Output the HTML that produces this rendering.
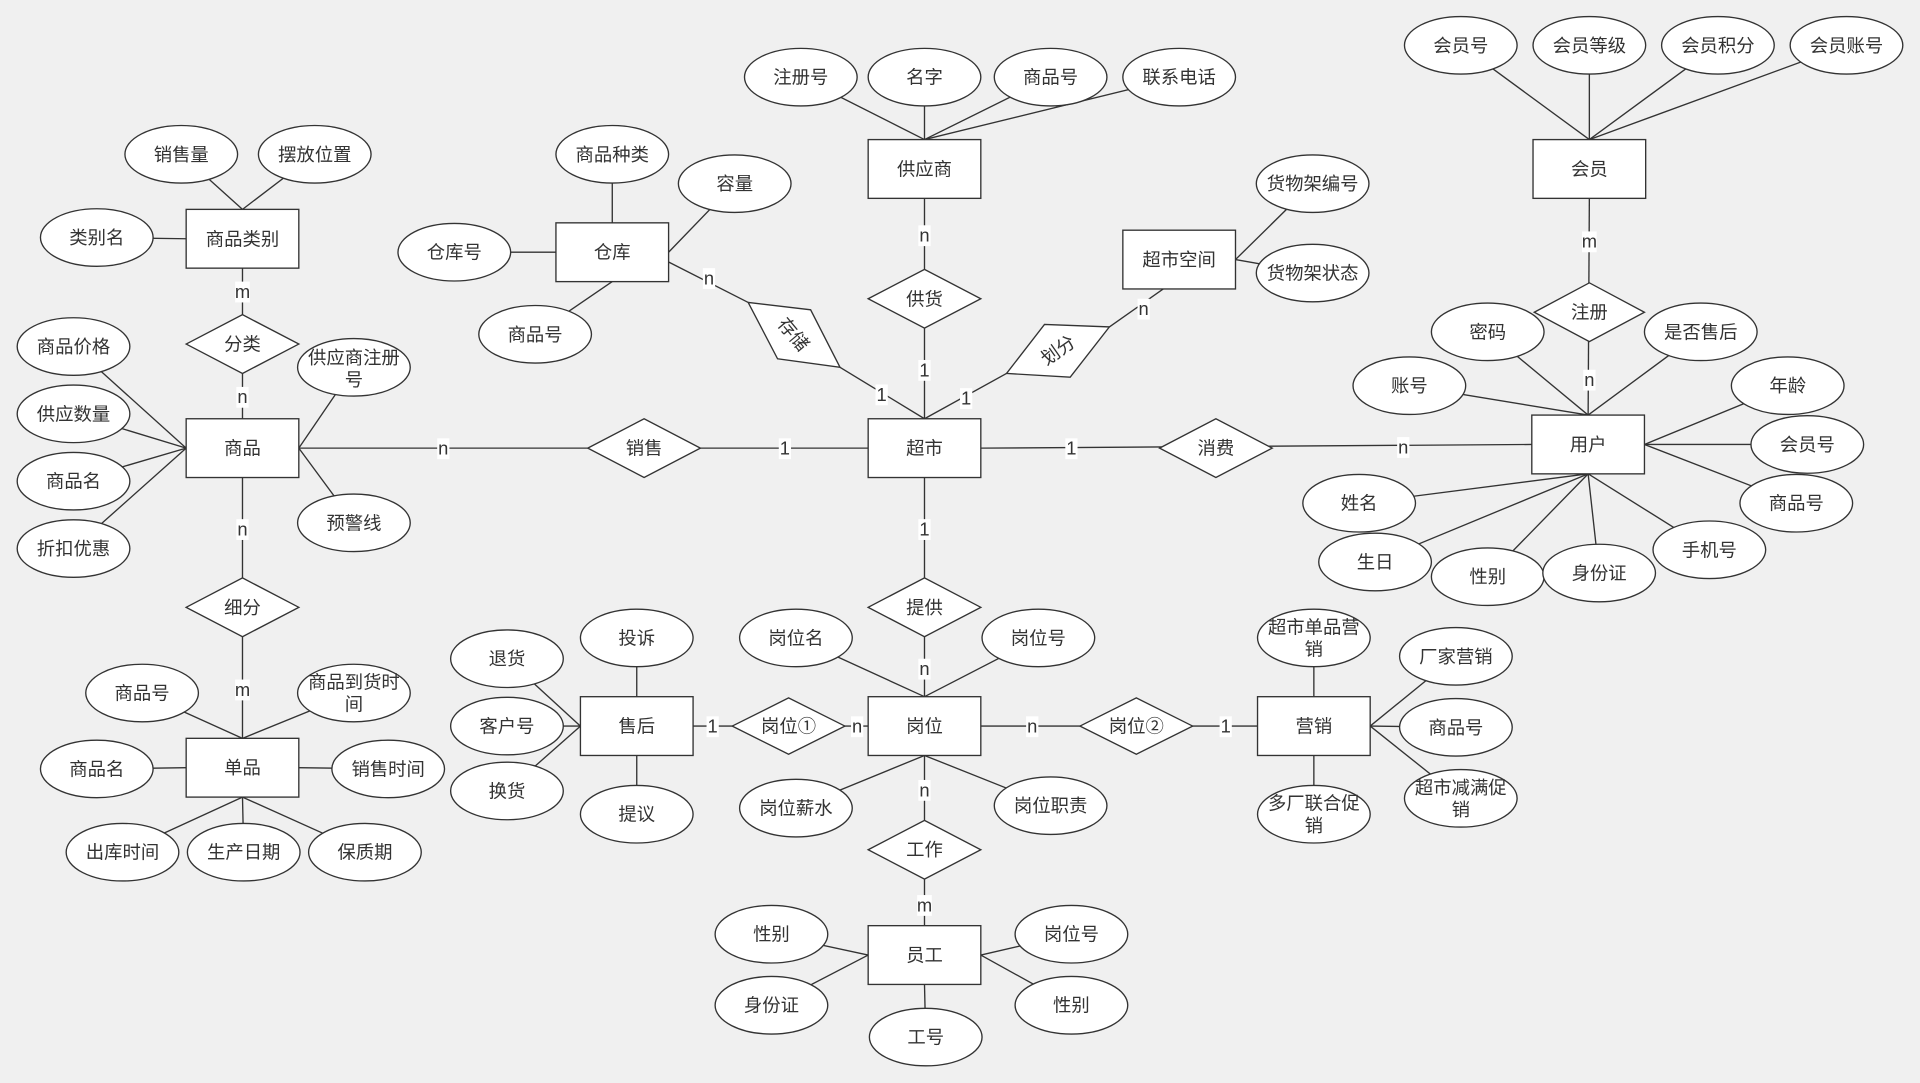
<!DOCTYPE html>
<html><head><meta charset="utf-8"><style>
html,body{margin:0;padding:0;background:#f0f0f0;}
svg{display:block;}
text{font-family:"Liberation Sans","Noto Sans CJK SC",sans-serif;font-size:15px;fill:#333;text-anchor:middle;dominant-baseline:central;}
.l line{stroke:#333;stroke-width:1.1;}
ellipse,rect.e,polygon{fill:#fff;stroke:#333;stroke-width:1.1;}
rect.b{fill:#fff;stroke:none;}
</style></head><body>
<svg width="1920" height="1083" viewBox="0 0 1568 884.5" xmlns="http://www.w3.org/2000/svg">
<rect width="1568" height="885" fill="#f0f0f0"/>
<g class="l">
<!-- 商品类别 -->
<line x1="148" y1="126" x2="198" y2="171"/><line x1="257" y1="126" x2="198" y2="171"/><line x1="79" y1="194" x2="152" y2="195"/>
<!-- 仓库 -->
<line x1="500" y1="126" x2="500" y2="182"/><line x1="600" y1="150" x2="546" y2="206"/><line x1="371" y1="206" x2="454" y2="206"/><line x1="437" y1="273" x2="500" y2="230"/>
<!-- 供应商 -->
<line x1="654" y1="63" x2="755" y2="114"/><line x1="755" y1="63" x2="755" y2="114"/><line x1="858" y1="63" x2="755" y2="114"/><line x1="963" y1="63" x2="755" y2="114"/>
<!-- 超市空间 -->
<line x1="1072" y1="150" x2="1009" y2="212"/><line x1="1072" y1="223" x2="1009" y2="212"/>
<!-- 会员 -->
<line x1="1193" y1="37" x2="1298" y2="114"/><line x1="1298" y1="37" x2="1298" y2="114"/><line x1="1403" y1="37" x2="1298" y2="114"/><line x1="1508" y1="37" x2="1298" y2="114"/>
<!-- 用户 -->
<line x1="1215" y1="271" x2="1297" y2="339"/><line x1="1389" y1="271" x2="1297" y2="339"/><line x1="1151" y1="315" x2="1297" y2="339"/>
<line x1="1460" y1="315" x2="1343" y2="363"/><line x1="1476" y1="363" x2="1343" y2="363"/><line x1="1467" y1="411" x2="1343" y2="363"/>
<line x1="1110" y1="411" x2="1297" y2="387"/><line x1="1123" y1="459" x2="1297" y2="387"/><line x1="1215" y1="471" x2="1297" y2="387"/><line x1="1306" y1="468" x2="1297" y2="387"/><line x1="1396" y1="449" x2="1297" y2="387"/>
<!-- 商品 -->
<line x1="60" y1="283" x2="152" y2="366"/><line x1="60" y1="338" x2="152" y2="366"/><line x1="60" y1="393" x2="152" y2="366"/><line x1="60" y1="448" x2="152" y2="366"/>
<line x1="289" y1="300" x2="244" y2="366"/><line x1="289" y1="427" x2="244" y2="366"/>
<!-- 单品 -->
<line x1="116" y1="566" x2="198" y2="603"/><line x1="289" y1="566" x2="198" y2="603"/><line x1="79" y1="628" x2="152" y2="627"/><line x1="317" y1="628" x2="244" y2="627"/>
<line x1="100" y1="696" x2="198" y2="651"/><line x1="199" y1="696" x2="198" y2="651"/><line x1="298" y1="696" x2="198" y2="651"/>
<!-- 售后 -->
<line x1="414" y1="538" x2="474" y2="593"/><line x1="414" y1="593" x2="474" y2="593"/><line x1="414" y1="646" x2="474" y2="593"/><line x1="520" y1="521" x2="520" y2="569"/><line x1="520" y1="665" x2="520" y2="617"/>
<!-- 岗位 -->
<line x1="650" y1="521" x2="755" y2="569"/><line x1="848" y1="521" x2="755" y2="569"/><line x1="650" y1="660" x2="755" y2="617"/><line x1="858" y1="658" x2="755" y2="617"/>
<!-- 营销 -->
<line x1="1073" y1="521" x2="1073" y2="569"/><line x1="1073" y1="665" x2="1073" y2="617"/><line x1="1189" y1="536" x2="1119" y2="593"/><line x1="1189" y1="594" x2="1119" y2="593"/><line x1="1193" y1="652" x2="1119" y2="593"/>
<!-- 员工 -->
<line x1="630" y1="763" x2="709" y2="780"/><line x1="630" y1="821" x2="709" y2="780"/><line x1="875" y1="763" x2="801" y2="780"/><line x1="875" y1="821" x2="801" y2="780"/><line x1="756" y1="847" x2="755" y2="804"/>
<!-- relations -->
<line x1="198" y1="219" x2="198" y2="342"/>
<line x1="198" y1="390" x2="198" y2="603"/>
<line x1="244" y1="366" x2="709" y2="366"/>
<line x1="801" y1="366" x2="1251" y2="363"/>
<line x1="755" y1="162" x2="755" y2="342"/>
<line x1="546" y1="214" x2="611" y2="247"/><line x1="686" y1="300" x2="755" y2="342"/>
<line x1="755" y1="342" x2="822" y2="305"/><line x1="906" y1="267" x2="950" y2="236"/>
<line x1="1298" y1="162" x2="1297" y2="339"/>
<line x1="755" y1="390" x2="755" y2="569"/>
<line x1="566" y1="593" x2="709" y2="593"/>
<line x1="801" y1="593" x2="1027" y2="593"/>
<line x1="755" y1="617" x2="755" y2="756"/>
</g>
<!-- entities -->
<g>
<rect class="e" x="152" y="171" width="92" height="48"/><text x="198" y="195">商品类别</text>
<rect class="e" x="454" y="182" width="92" height="48"/><text x="500" y="206">仓库</text>
<rect class="e" x="709" y="114" width="92" height="48"/><text x="755" y="138">供应商</text>
<rect class="e" x="917" y="188" width="92" height="48"/><text x="963" y="212">超市空间</text>
<rect class="e" x="1252" y="114" width="92" height="48"/><text x="1298" y="138">会员</text>
<rect class="e" x="152" y="342" width="92" height="48"/><text x="198" y="366">商品</text>
<rect class="e" x="709" y="342" width="92" height="48"/><text x="755" y="366">超市</text>
<rect class="e" x="1251" y="339" width="92" height="48"/><text x="1297" y="363">用户</text>
<rect class="e" x="152" y="603" width="92" height="48"/><text x="198" y="627">单品</text>
<rect class="e" x="474" y="569" width="92" height="48"/><text x="520" y="593">售后</text>
<rect class="e" x="709" y="569" width="92" height="48"/><text x="755" y="593">岗位</text>
<rect class="e" x="1027" y="569" width="92" height="48"/><text x="1073" y="593">营销</text>
<rect class="e" x="709" y="756" width="92" height="48"/><text x="755" y="780">员工</text>
</g>
<!-- diamonds -->
<g>
<polygon points="152,281 198,257 244,281 198,305"/><text x="198" y="281">分类</text>
<polygon points="709,244 755,220 801,244 755,268"/><text x="755" y="244">供货</text>
<polygon points="611,247 662,253 686,300 635,293"/><text x="648" y="273" transform="rotate(50 648 273)">存储</text>
<polygon points="853,265 906,267 874,308 822,305"/><text x="864" y="286" transform="rotate(-35 864 286)">划分</text>
<polygon points="1253,255 1298,231 1343,255 1298,279"/><text x="1298" y="255">注册</text>
<polygon points="480,366 526,342 572,366 526,390"/><text x="526" y="366">销售</text>
<polygon points="947,366 993,342 1039,366 993,390"/><text x="993" y="366">消费</text>
<polygon points="152,496 198,472 244,496 198,520"/><text x="198" y="496">细分</text>
<polygon points="709,496 755,472 801,496 755,520"/><text x="755" y="496">提供</text>
<polygon points="598,593 644,570 690,593 644,616"/><text x="644" y="593">岗位①</text>
<polygon points="882,593 928,570 974,593 928,616"/><text x="928" y="593">岗位②</text>
<polygon points="709,694 755,670 801,694 755,718"/><text x="755" y="694">工作</text>
</g>
<!-- attributes -->
<g>
<ellipse cx="148" cy="126" rx="46" ry="23.5"/><text x="148" y="126">销售量</text>
<ellipse cx="257" cy="126" rx="46" ry="23.5"/><text x="257" y="126">摆放位置</text>
<ellipse cx="79" cy="194" rx="46" ry="23.5"/><text x="79" y="194">类别名</text>
<ellipse cx="500" cy="126" rx="46" ry="23.5"/><text x="500" y="126">商品种类</text>
<ellipse cx="600" cy="150" rx="46" ry="23.5"/><text x="600" y="150">容量</text>
<ellipse cx="371" cy="206" rx="46" ry="23.5"/><text x="371" y="206">仓库号</text>
<ellipse cx="437" cy="273" rx="46" ry="23.5"/><text x="437" y="273">商品号</text>
<ellipse cx="654" cy="63" rx="46" ry="23.5"/><text x="654" y="63">注册号</text>
<ellipse cx="755" cy="63" rx="46" ry="23.5"/><text x="755" y="63">名字</text>
<ellipse cx="858" cy="63" rx="46" ry="23.5"/><text x="858" y="63">商品号</text>
<ellipse cx="963" cy="63" rx="46" ry="23.5"/><text x="963" y="63">联系电话</text>
<ellipse cx="1072" cy="150" rx="46" ry="23.5"/><text x="1072" y="150">货物架编号</text>
<ellipse cx="1072" cy="223" rx="46" ry="23.5"/><text x="1072" y="223">货物架状态</text>
<ellipse cx="1193" cy="37" rx="46" ry="23.5"/><text x="1193" y="37">会员号</text>
<ellipse cx="1298" cy="37" rx="46" ry="23.5"/><text x="1298" y="37">会员等级</text>
<ellipse cx="1403" cy="37" rx="46" ry="23.5"/><text x="1403" y="37">会员积分</text>
<ellipse cx="1508" cy="37" rx="46" ry="23.5"/><text x="1508" y="37">会员账号</text>
<ellipse cx="1215" cy="271" rx="46" ry="23.5"/><text x="1215" y="271">密码</text>
<ellipse cx="1389" cy="271" rx="46" ry="23.5"/><text x="1389" y="271">是否售后</text>
<ellipse cx="1151" cy="315" rx="46" ry="23.5"/><text x="1151" y="315">账号</text>
<ellipse cx="1460" cy="315" rx="46" ry="23.5"/><text x="1460" y="315">年龄</text>
<ellipse cx="1476" cy="363" rx="46" ry="23.5"/><text x="1476" y="363">会员号</text>
<ellipse cx="1467" cy="411" rx="46" ry="23.5"/><text x="1467" y="411">商品号</text>
<ellipse cx="1110" cy="411" rx="46" ry="23.5"/><text x="1110" y="411">姓名</text>
<ellipse cx="1123" cy="459" rx="46" ry="23.5"/><text x="1123" y="459">生日</text>
<ellipse cx="1215" cy="471" rx="46" ry="23.5"/><text x="1215" y="471">性别</text>
<ellipse cx="1306" cy="468" rx="46" ry="23.5"/><text x="1306" y="468">身份证</text>
<ellipse cx="1396" cy="449" rx="46" ry="23.5"/><text x="1396" y="449">手机号</text>
<ellipse cx="60" cy="283" rx="46" ry="23.5"/><text x="60" y="283">商品价格</text>
<ellipse cx="60" cy="338" rx="46" ry="23.5"/><text x="60" y="338">供应数量</text>
<ellipse cx="60" cy="393" rx="46" ry="23.5"/><text x="60" y="393">商品名</text>
<ellipse cx="60" cy="448" rx="46" ry="23.5"/><text x="60" y="448">折扣优惠</text>
<ellipse cx="289" cy="300" rx="46" ry="23.5"/><text x="289" y="292">供应商注册</text><text x="289" y="310">号</text>
<ellipse cx="289" cy="427" rx="46" ry="23.5"/><text x="289" y="427">预警线</text>
<ellipse cx="116" cy="566" rx="46" ry="23.5"/><text x="116" y="566">商品号</text>
<ellipse cx="289" cy="566" rx="46" ry="23.5"/><text x="289" y="557">商品到货时</text><text x="289" y="575">间</text>
<ellipse cx="79" cy="628" rx="46" ry="23.5"/><text x="79" y="628">商品名</text>
<ellipse cx="317" cy="628" rx="46" ry="23.5"/><text x="317" y="628">销售时间</text>
<ellipse cx="100" cy="696" rx="46" ry="23.5"/><text x="100" y="696">出库时间</text>
<ellipse cx="199" cy="696" rx="46" ry="23.5"/><text x="199" y="696">生产日期</text>
<ellipse cx="298" cy="696" rx="46" ry="23.5"/><text x="298" y="696">保质期</text>
<ellipse cx="414" cy="538" rx="46" ry="23.5"/><text x="414" y="538">退货</text>
<ellipse cx="520" cy="521" rx="46" ry="23.5"/><text x="520" y="521">投诉</text>
<ellipse cx="414" cy="593" rx="46" ry="23.5"/><text x="414" y="593">客户号</text>
<ellipse cx="414" cy="646" rx="46" ry="23.5"/><text x="414" y="646">换货</text>
<ellipse cx="520" cy="665" rx="46" ry="23.5"/><text x="520" y="665">提议</text>
<ellipse cx="650" cy="521" rx="46" ry="23.5"/><text x="650" y="521">岗位名</text>
<ellipse cx="848" cy="521" rx="46" ry="23.5"/><text x="848" y="521">岗位号</text>
<ellipse cx="650" cy="660" rx="46" ry="23.5"/><text x="650" y="660">岗位薪水</text>
<ellipse cx="858" cy="658" rx="46" ry="23.5"/><text x="858" y="658">岗位职责</text>
<ellipse cx="1073" cy="521" rx="46" ry="23.5"/><text x="1073" y="512">超市单品营</text><text x="1073" y="530">销</text>
<ellipse cx="1189" cy="536" rx="46" ry="23.5"/><text x="1189" y="536">厂家营销</text>
<ellipse cx="1189" cy="594" rx="46" ry="23.5"/><text x="1189" y="594">商品号</text>
<ellipse cx="1073" cy="665" rx="46" ry="23.5"/><text x="1073" y="656">多厂联合促</text><text x="1073" y="674">销</text>
<ellipse cx="1193" cy="652" rx="46" ry="23.5"/><text x="1193" y="643">超市减满促</text><text x="1193" y="661">销</text>
<ellipse cx="630" cy="763" rx="46" ry="23.5"/><text x="630" y="763">性别</text>
<ellipse cx="630" cy="821" rx="46" ry="23.5"/><text x="630" y="821">身份证</text>
<ellipse cx="875" cy="763" rx="46" ry="23.5"/><text x="875" y="763">岗位号</text>
<ellipse cx="875" cy="821" rx="46" ry="23.5"/><text x="875" y="821">性别</text>
<ellipse cx="756" cy="847" rx="46" ry="23.5"/><text x="756" y="847">工号</text>
</g>
<!-- cardinality labels -->
<g>
<rect class="b" x="192" y="230" width="12" height="17"/><text x="198" y="238">m</text>
<rect class="b" x="193" y="316" width="10" height="17"/><text x="198" y="324">n</text>
<rect class="b" x="357" y="358" width="10" height="17"/><text x="362" y="366">n</text>
<rect class="b" x="636" y="358" width="10" height="17"/><text x="641" y="366">1</text>
<rect class="b" x="870" y="358" width="10" height="17"/><text x="875" y="366">1</text>
<rect class="b" x="1141" y="357" width="10" height="17"/><text x="1146" y="365">n</text>
<rect class="b" x="750" y="184" width="10" height="17"/><text x="755" y="192">n</text>
<rect class="b" x="750" y="294" width="10" height="17"/><text x="755" y="302">1</text>
<rect class="b" x="574" y="219" width="10" height="17"/><text x="579" y="227">n</text>
<rect class="b" x="715" y="314" width="10" height="17"/><text x="720" y="322">1</text>
<rect class="b" x="929" y="244" width="10" height="17"/><text x="934" y="252">n</text>
<rect class="b" x="784" y="317" width="10" height="17"/><text x="789" y="325">1</text>
<rect class="b" x="1292" y="189" width="12" height="17"/><text x="1298" y="197">m</text>
<rect class="b" x="1293" y="302" width="10" height="17"/><text x="1298" y="310">n</text>
<rect class="b" x="193" y="424" width="10" height="17"/><text x="198" y="432">n</text>
<rect class="b" x="192" y="555" width="12" height="17"/><text x="198" y="563">m</text>
<rect class="b" x="750" y="424" width="10" height="17"/><text x="755" y="432">1</text>
<rect class="b" x="750" y="538" width="10" height="17"/><text x="755" y="546">n</text>
<rect class="b" x="577" y="585" width="10" height="17"/><text x="582" y="593">1</text>
<rect class="b" x="695" y="585" width="10" height="17"/><text x="700" y="593">n</text>
<rect class="b" x="838" y="585" width="10" height="17"/><text x="843" y="593">n</text>
<rect class="b" x="996" y="585" width="10" height="17"/><text x="1001" y="593">1</text>
<rect class="b" x="750" y="637" width="10" height="17"/><text x="755" y="645">n</text>
<rect class="b" x="749" y="731" width="12" height="17"/><text x="755" y="739">m</text>
</g>
</svg>
</body></html>
